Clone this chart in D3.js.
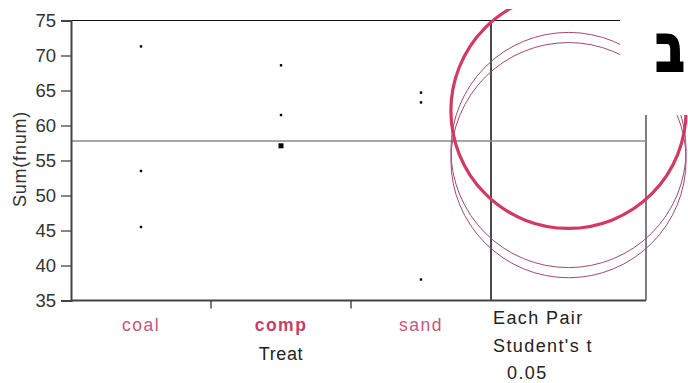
<!DOCTYPE html>
<html>
<head>
<meta charset="utf-8">
<script src="https://cdn.jsdelivr.net/npm/d3@7"></script>
<style>
  html, body { margin: 0; padding: 0; background: #fff; }
  svg { display: block; font-family: "Liberation Sans", Arial, sans-serif; }
</style>
</head>
<body>
<svg id="chart" width="688" height="383"></svg>
<script>
// Treatment groups and the observed Sum(fnum) values in each
const categories = ["coal", "comp", "sand"];
const coalValues = [71.3, 53.5, 45.5];
const compValues = [68.6, 61.5, 57.1, 57.1];
const sandValues = [64.7, 63.3, 38.0];
const groupValues = [coalValues, compValues, sandValues];

// Grand mean and comparison-circle centres (group means) / radius, in data units
const grandMean = 57.8;
const circleCenters = [56.5, 62.1, 55.05];
const circleRadius = 16.8;
const selectedGroup = "comp";

const yTicks = [35, 40, 45, 50, 55, 60, 65, 70, 75];
const circleCaption = ["Each Pair", "Student's t", "0.05"];

const svg = d3.select("#chart");
const plotLeft = 71, plotRight = 646, plotTop = 20.5, plotBottom = 300.5, split = 491;

const x = d3.scaleBand().domain(categories).range([plotLeft, split]).padding(0);
const y = d3.scaleLinear().domain([35, 75]).range([plotBottom, plotTop]);
const cx = (split + plotRight) / 2;

const pink = "#c9547c";

// frame: top, right, circle-panel divider
svg.append("line").attr("x1", plotLeft).attr("x2", plotRight).attr("y1", plotTop).attr("y2", plotTop)
  .attr("stroke", "#111").attr("stroke-width", 1);
svg.append("line").attr("x1", plotRight).attr("x2", plotRight).attr("y1", plotTop).attr("y2", plotBottom)
  .attr("stroke", "#555").attr("stroke-width", 1.5);
svg.append("line").attr("x1", split).attr("x2", split).attr("y1", plotTop).attr("y2", plotBottom)
  .attr("stroke", "#111").attr("stroke-width", 1.5);

// grand mean reference line
svg.append("line").attr("x1", plotLeft).attr("x2", plotRight)
  .attr("y1", y(grandMean)).attr("y2", y(grandMean))
  .attr("stroke", "#8a8a8a").attr("stroke-width", 1.5);

// y axis
const yAxis = svg.append("g").attr("transform", `translate(${plotLeft},0)`)
  .call(d3.axisLeft(y).tickValues(yTicks).tickSize(10).tickPadding(5));
yAxis.select(".domain").attr("stroke", "#444").attr("stroke-width", 2);
yAxis.selectAll(".tick line").attr("stroke", "#444").attr("stroke-width", 1.3);
yAxis.selectAll(".tick text").attr("fill", "#333").style("font-size", "18.5px")
  .style("font-family", "'Liberation Sans', Arial, sans-serif");

// bottom axis line with ticks between groups
svg.append("line").attr("x1", plotLeft).attr("x2", plotRight).attr("y1", plotBottom).attr("y2", plotBottom)
  .attr("stroke", "#444").attr("stroke-width", 2);
categories.slice(1).forEach(c => {
  svg.append("line").attr("x1", x(c)).attr("x2", x(c))
    .attr("y1", plotBottom).attr("y2", plotBottom + 8)
    .attr("stroke", "#333").attr("stroke-width", 1.3);
});

// category labels
svg.selectAll("text.cat").data(categories).enter().append("text")
  .attr("class", "cat")
  .attr("x", d => x(d) + x.bandwidth() / 2)
  .attr("y", 331)
  .attr("text-anchor", "middle")
  .attr("fill", d => d === selectedGroup ? "#c83e66" : pink)
  .style("font-size", "17.5px")
  .style("font-weight", d => d === selectedGroup ? "bold" : "normal")
  .style("letter-spacing", "1.5px")
  .text(d => d);

svg.append("text").attr("x", x("comp") + x.bandwidth() / 2).attr("y", 360)
  .attr("text-anchor", "middle").attr("fill", "#222").style("font-size", "18px")
  .style("letter-spacing", "0.6px")
  .text("Treat");

// y axis title
svg.append("text").attr("transform", "translate(26,159) rotate(-90)")
  .attr("text-anchor", "middle").attr("fill", "#333").style("font-size", "18px")
  .style("letter-spacing", "0.8px")
  .text("Sum(fnum)");

// data points; repeated values merge into a larger marker
groupValues.forEach((vals, i) => {
  const counts = d3.rollup(vals, v => v.length, d => d);
  counts.forEach((n, v) => {
    const s = n > 1 ? 5 : 2.4;
    svg.append("rect")
      .attr("x", x(categories[i]) + x.bandwidth() / 2 - s / 2)
      .attr("y", y(v) - s / 2)
      .attr("width", s).attr("height", s)
      .attr("fill", "#000");
  });
});

// comparison circles
svg.append("clipPath").attr("id", "circClip")
  .append("rect").attr("x", 0).attr("y", 9).attr("width", 688).attr("height", 374);
const rPx = y(35) - y(35 + circleRadius);
const circles = svg.append("g").attr("clip-path", "url(#circClip)");
categories.forEach((c, i) => {
  const sel = c === selectedGroup;
  circles.append("circle")
    .attr("cx", cx).attr("cy", y(circleCenters[i])).attr("r", rPx)
    .attr("fill", "none")
    .attr("stroke", sel ? "#d23a61" : "#9e4c70")
    .attr("stroke-width", sel ? 3.2 : 1);
});

// caption under the circle panel
svg.selectAll("text.cap").data(circleCaption).enter().append("text")
  .attr("class", "cap")
  .attr("x", (d, i) => i === 2 ? 507 : 493)
  .attr("y", (d, i) => 324 + i * 27.5)
  .attr("fill", "#222").style("font-size", "18px").style("letter-spacing", "1.4px")
  .text(d => d);

// corner label panel
svg.append("rect").attr("x", 620).attr("y", 0).attr("width", 68).attr("height", 115)
  .attr("fill", "#fff");
svg.append("text").attr("transform", "translate(670,71) scale(0.95,1.3)")
  .attr("text-anchor", "middle")
  .attr("fill", "#000").attr("stroke", "#000").attr("stroke-width", 2.2)
  .attr("stroke-linejoin", "miter")
  .style("font-size", "50px").style("font-weight", "bold")
  .style("font-family", "'DejaVu Sans', sans-serif")
  .text("ב");
</script>
</body>
</html>
